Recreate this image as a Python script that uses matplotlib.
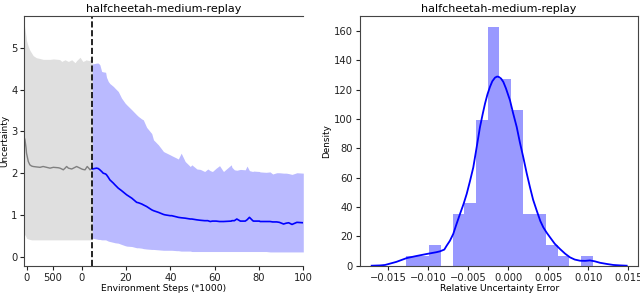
import numpy as np
import matplotlib
matplotlib.use("Agg")
import matplotlib.pyplot as plt

# ---- left panel: uncertainty over training (offline part then online part) ----
# offline section, x given in axis units (left of the dashed switch line)
offline_x = [-25.9, -25.6, -25.1, -24.9, -24.1, -23.4, -22.6, -21.9, -20.5, -18.8,
             -17.4, -14.3, -12.8, -10.6, -9.8, -9.0, -8.3, -7.5, -6.8, -6.0,
             -4.5, -3.0, -2.3, -0.75, 0.0, 0.5, 1.5, 2.0, 2.5, 3.5, 3.75, 4.8]
offline_upper = [5.56, 5.45, 5.28, 5.18, 5.04, 4.95, 4.88, 4.82, 4.77, 4.75,
                 4.73, 4.73, 4.74, 4.73, 4.72, 4.68, 4.70, 4.72, 4.70, 4.68,
                 4.72, 4.65, 4.70, 4.78, 4.72, 4.68, 4.70, 4.72, 4.71, 4.70, 4.72, 4.73]
offline_mean = [2.85, 2.80, 2.60, 2.48, 2.28, 2.20, 2.17, 2.16, 2.15, 2.14,
                2.16, 2.12, 2.14, 2.13, 2.12, 2.10, 2.08, 2.12, 2.16, 2.12,
                2.10, 2.14, 2.16, 2.12, 2.10, 2.09, 2.08, 2.12, 2.16, 2.10, 2.08, 2.12]
offline_lower = [0.52, 0.52, 0.47, 0.44, 0.42, 0.41, 0.40, 0.40, 0.40, 0.40,
                 0.40, 0.40, 0.40, 0.40, 0.40, 0.40, 0.40, 0.40, 0.40, 0.40,
                 0.40, 0.40, 0.40, 0.40, 0.40, 0.40, 0.40, 0.40, 0.40, 0.40, 0.40, 0.40]

# online section, x in thousands of environment steps
online_x = [4.8, 6.7, 7.5, 8.2, 9.0, 9.7, 10.8, 11.2, 12.0, 12.7, 14.3, 15.0, 16.5,
            18.0, 19.6, 20.3, 22.6, 24.8, 25.6, 27.1, 27.8, 29.3, 31.6, 32.4, 34.6,
            36.9, 37.6, 39.9, 40.6, 42.9, 43.6, 44.9, 46.7, 49.0, 49.7, 52.0, 53.5,
            55.5, 56.9, 58.0, 59.0, 60.7, 62.2, 63.7, 64.0, 67.5, 67.8, 68.9, 70.0,
            71.6, 73.8, 74.6, 75.7, 77.2, 77.5, 80.2, 80.5, 83.2, 85.0, 86.2, 88.0,
            89.2, 91.1, 92.3, 93.4, 94.9, 97.1, 100.0]
online_upper = [4.62, 4.64, 4.64, 4.60, 4.44, 4.43, 4.42, 4.30, 4.20, 4.15, 4.08, 4.04, 3.96,
                3.80, 3.68, 3.64, 3.52, 3.40, 3.36, 3.30, 3.28, 3.10, 2.95, 2.80, 2.68,
                2.52, 2.50, 2.44, 2.42, 2.36, 2.34, 2.48, 2.28, 2.16, 2.20, 2.10, 2.09,
                2.04, 2.10, 2.06, 2.04, 2.12, 2.18, 2.06, 2.04, 2.20, 2.14, 2.08, 2.07,
                2.09, 2.08, 2.17, 2.06, 2.04, 2.05, 2.04, 2.03, 2.02, 2.03, 1.98, 2.01,
                2.01, 2.00, 2.00, 1.99, 1.97, 2.01, 2.00]
online_mean = [2.10, 2.12, 2.11, 2.08, 2.04, 2.00, 1.98, 1.96, 1.90, 1.84, 1.76, 1.72, 1.64,
               1.58, 1.51, 1.48, 1.40, 1.30, 1.29, 1.26, 1.24, 1.20, 1.12, 1.10, 1.06,
               1.01, 1.00, 0.98, 0.98, 0.95, 0.94, 0.93, 0.92, 0.90, 0.90, 0.88, 0.87,
               0.86, 0.86, 0.84, 0.85, 0.85, 0.84, 0.84, 0.84, 0.85, 0.86, 0.86, 0.90,
               0.85, 0.85, 0.88, 0.94, 0.86, 0.85, 0.85, 0.84, 0.84, 0.84, 0.83, 0.83,
               0.82, 0.78, 0.80, 0.81, 0.77, 0.82, 0.81]
online_lower = [0.44, 0.42, 0.41, 0.41, 0.40, 0.40, 0.40, 0.39, 0.37, 0.36, 0.34, 0.33, 0.32,
                0.29, 0.26, 0.25, 0.24, 0.21, 0.21, 0.20, 0.19, 0.18, 0.17, 0.17, 0.16,
                0.15, 0.15, 0.15, 0.15, 0.14, 0.14, 0.13, 0.13, 0.13, 0.12, 0.12, 0.12,
                0.12, 0.12, 0.12, 0.12, 0.12, 0.12, 0.12, 0.12, 0.12, 0.12, 0.12, 0.12,
                0.12, 0.12, 0.12, 0.12, 0.12, 0.12, 0.12, 0.12, 0.12, 0.11, 0.11, 0.11,
                0.11, 0.11, 0.11, 0.11, 0.11, 0.11, 0.11]

switch_x = 4.8
left_tick_pos = [-24.9, -13.1, 0, 20, 40, 60, 80, 100]
left_tick_labels = ["0", "500", "0", "20", "40", "60", "80", "100"]

# ---- right panel: histogram of relative uncertainty error + kde ----
bin_start = -0.01279
bin_width = 0.001458
hist_density = [6.8, 6.8, 14.4, 0, 35.3, 42.6, 99.6, 162.5,
                127.2, 106.0, 35.3, 35.3, 14.4, 6.8, 0, 6.8]
kde_x = [-0.01708, -0.01600, -0.01541, -0.0140, -0.0127, -0.0115, -0.0102, -0.0090,
         -0.00854, -0.0080, -0.0077, -0.0073, -0.00688, -0.0065, -0.00604, -0.0056,
         -0.0052, -0.0048, -0.00438, -0.00395, -0.00354, -0.0032, -0.00291, -0.0026,
         -0.00229, -0.0020, -0.00166, -0.0014, -0.0012, -0.0009, -0.00062, -0.0003,
         0.00021, 0.0006, 0.00105, 0.00145, 0.00187, 0.0023, 0.00271, 0.0031,
         0.00355, 0.0040, 0.00437, 0.0048, 0.00521, 0.0058, 0.00646, 0.0071,
         0.00771, 0.0083, 0.00896, 0.0096, 0.01021, 0.0108, 0.01146, 0.0123,
         0.01313, 0.0140, 0.0148]
kde_y = [0.0, 0.2, 0.5, 2.6, 5.2, 6.6, 8.0, 9.2, 9.8, 11.0, 13.7, 17.0, 21.7, 28.0,
         35.3, 42.0, 49.0, 57.5, 67.0, 81.0, 94.6, 103.5, 110.6, 117.0, 122.0, 125.8,
         128.3, 129.0, 128.8, 127.6, 125.3, 121.0, 112.8, 104.0, 94.6, 84.0, 74.0,
         63.0, 53.5, 45.0, 37.6, 30.5, 26.2, 22.5, 19.4, 15.0, 11.4, 8.2, 5.7, 4.2,
         3.4, 3.3, 3.6, 3.0, 2.0, 1.2, 0.5, 0.2, 0.0]

plt.rcParams["font.family"] = "DejaVu Sans"
plt.rcParams["font.size"] = 7.2

fig = plt.figure(figsize=(6.4, 2.93), dpi=100)
ax1 = fig.add_axes([24.3 / 640, 27.3 / 293, 279 / 640, 249.7 / 293])
ax2 = fig.add_axes([360 / 640, 27.3 / 293, 278.3 / 640, 249.7 / 293])

ax1.fill_between(offline_x, offline_lower, offline_upper, color="gray", alpha=0.25, lw=0)
ax1.plot(offline_x, offline_mean, color="gray", lw=1)
ax1.fill_between(online_x, online_lower, online_upper, color="blue", alpha=0.27, lw=0)
ax1.plot(online_x, online_mean, color="blue", lw=1.2)
ax1.axvline(switch_x, color="black", ls="--", lw=1.2)
ax1.set_xlim(-25.9, 100)
ax1.set_ylim(-0.22, 5.77)
ax1.set_xticks(left_tick_pos)
ax1.set_xticklabels(left_tick_labels)
ax1.set_yticks(range(6))
ax1.spines["right"].set_visible(False)
ax1.set_title("halfcheetah-medium-replay", fontsize=8, pad=3)
ax1.set_xlabel("Environment Steps (*1000)", fontsize=6.6, labelpad=1)
ax1.set_ylabel("Uncertainty", fontsize=6.4, labelpad=1)

edges = [bin_start + i * bin_width for i in range(len(hist_density))]
ax2.bar(edges, hist_density, width=bin_width, align="edge", color="blue", alpha=0.4, lw=0)
ax2.plot(kde_x, kde_y, color="blue", lw=1.3)
ax2.set_xlim(-0.01854, 0.01625)
ax2.set_ylim(0, 170.3)
ax2.set_xticks([-0.015, -0.010, -0.005, 0.0, 0.005, 0.010, 0.015])
ax2.set_xticklabels(["−0.015", "−0.010", "−0.005", "0.000", "0.005", "0.010", "0.015"])
ax2.set_yticks(range(0, 161, 20))
ax2.set_title("halfcheetah-medium-replay", fontsize=8, pad=3)
ax2.set_xlabel("Relative Uncertainty Error", fontsize=6.6, labelpad=1)
ax2.set_ylabel("Density", fontsize=6.4, labelpad=2)

for ax in (ax1, ax2):
    for s in ax.spines.values():
        s.set_color("#444444")
    ax.tick_params(length=3, width=0.8, pad=2, colors="#222222")

fig.savefig("out.png", dpi=100)
